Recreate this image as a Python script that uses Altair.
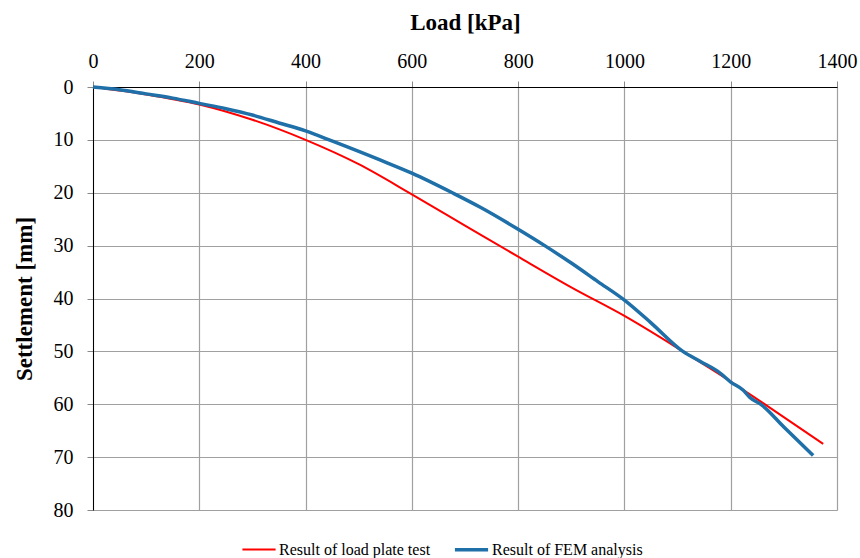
import altair as alt
import pandas as pd

series_names = ["Result of load plate test", "Result of FEM analysis"]

red_load = [0, 100, 200, 300, 400, 500, 600, 700, 800, 900, 1000, 1110, 1200, 1261, 1374]
red_settle = [0, 1.4, 3.3, 6.2, 10.0, 14.6, 20.3, 26.2, 32.1, 37.9, 43.3, 50.0, 55.7, 59.8, 67.5]

blue_load = [0, 50, 100, 150, 200, 250, 300, 350, 400, 452, 540, 600, 678, 728, 800,
             850, 900, 950, 1000, 1050, 1110, 1143, 1180, 1200, 1223, 1236, 1258, 1300, 1355]
blue_settle = [0, 0.5, 1.3, 2.1, 3.1, 4.1, 5.3, 6.8, 8.3, 10.3, 13.8, 16.3, 20.1, 22.7, 26.9,
               30.0, 33.3, 36.8, 40.3, 44.6, 50.0, 51.9, 54.1, 55.8, 57.3, 58.7, 60.1, 64.3, 69.7]

x_ticks = [0, 200, 400, 600, 800, 1000, 1200, 1400]
y_ticks = [0, 10, 20, 30, 40, 50, 60, 70, 80]

rows = []
for i, (x, y) in enumerate(zip(red_load, red_settle)):
    rows.append({"series": series_names[0], "load": x, "settlement": y, "order": i})
for i, (x, y) in enumerate(zip(blue_load, blue_settle)):
    rows.append({"series": series_names[1], "load": x, "settlement": y, "order": i})
df = pd.DataFrame(rows)

FONT = "Liberation Serif"
GRID = "#a0a0a0"

chart = alt.Chart(df).mark_line(interpolate="monotone").encode(
    x=alt.X("load:Q",
            scale=alt.Scale(domain=[0, 1400], nice=False),
            axis=alt.Axis(orient="top", values=x_ticks, format="d", title="Load [kPa]",
                          titleFont=FONT, titleFontSize=23, titleFontWeight="bold",
                          titleColor="black", titlePadding=17,
                          labelFont=FONT, labelFontSize=20, labelColor="black",
                          labelPadding=10, tickSize=6, tickColor="#888888",
                          domainColor="black", gridColor=GRID, gridWidth=1.2,
                          labelFlush=False)),
    y=alt.Y("settlement:Q",
            scale=alt.Scale(domain=[0, 80], reverse=True, nice=False),
            axis=alt.Axis(orient="left", values=y_ticks, format="d", title="Settlement [mm]",
                          titleFont=FONT, titleFontSize=23, titleFontWeight="bold",
                          titleColor="black", titlePadding=17,
                          labelFont=FONT, labelFontSize=20, labelColor="black",
                          labelPadding=14, tickSize=6, tickColor="#888888",
                          domainColor="black", gridColor=GRID, gridWidth=1.2)),
    color=alt.Color("series:N",
                    scale=alt.Scale(domain=series_names, range=["#ff0000", "#1f6fa8"]),
                    legend=alt.Legend(title=None, orient="none", direction="horizontal",
                                      legendX=148, legendY=444,
                                      symbolType="stroke", symbolSize=1100,
                                      symbolStrokeWidth=2.6,
                                      labelFont=FONT, labelFontSize=16, labelColor="black",
                                      labelOffset=2, columnPadding=16)),
    strokeWidth=alt.StrokeWidth("series:N",
                                scale=alt.Scale(domain=series_names, range=[2, 3.5]),
                                legend=None),
    order="order:Q",
).properties(
    width=744, height=423,
    autosize=alt.AutoSizeParams(type="none"),
    padding={"left": 93, "top": 87, "right": 23, "bottom": 48},
).configure_view(
    stroke=None
).configure(
    background="white"
)

chart.save("out.html", embed_options={"renderer": "svg", "actions": False})
